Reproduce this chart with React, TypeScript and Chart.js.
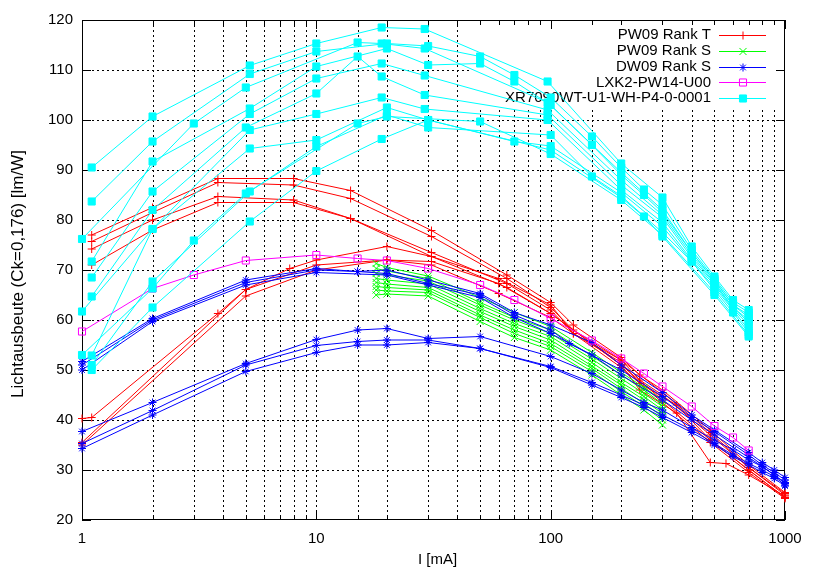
import React, { useEffect, useRef } from 'react';
import { Chart, registerables } from 'chart.js';

Chart.register(...registerables);

type P = [number, number];

// ---------- axes / text ----------
const xMajorLabels = [1, 10, 100, 1000];
const yMin = 20;
const yMax = 120;
const yStep = 10;
const xTitle = 'I [mA]';
const yTitle = 'Lichtausbeute (Ck=0,176) [lm/W]';
const legendLabels = ['PW09 Rank T', 'PW09 Rank S', 'DW09 Rank S', 'LXK2-PW14-U00', 'XR7090WT-U1-WH-P4-0-0001'];

// ---------- PW09 Rank T (red) ----------
const rankT1: P[] = [[1.1, 77], [2, 82.5], [3.8, 88.3], [8, 88.3], [14, 85.9], [31, 77.9], [65, 69], [100, 63.5], [125, 59], [200, 52.5], [240, 49], [300, 46], [480, 38], [700, 31], [1000, 25.5]];
const rankT2: P[] = [[1.1, 75.7], [2, 81.5], [3.8, 87.5], [8, 87], [14, 84.3], [31, 76.7], [65, 68.3], [100, 62.5], [125, 58], [200, 52], [240, 48], [300, 45], [480, 37], [700, 30.5], [1000, 25]];
const rankT3: P[] = [[1.1, 74.2], [2, 80], [3.8, 84.7], [8, 84], [14, 80.3], [31, 73.5], [65, 67.3], [100, 62], [125, 57.3], [200, 51.5], [240, 47.3], [345, 43], [480, 36], [700, 30], [1000, 24.5]];
const rankT4: P[] = [[1.1, 71], [2, 78], [3.8, 83.5], [8, 83.5], [14, 80.3], [31, 72.7], [65, 66.5], [100, 61.3], [200, 51], [240, 46], [345, 41.4], [480, 31.5], [560, 31.3], [700, 29], [1000, 24.8]];
const rankT5: P[] = [[1, 40.3], [1.1, 40.5], [3.8, 61.3], [5, 66.1], [7.7, 70.3], [10, 72], [20, 74.7], [31, 72.7], [60, 68.3], [100, 63], [125, 57.3], [200, 52], [300, 45.5], [480, 37.5], [700, 30.5], [1000, 25.3]];
const rankT6: P[] = [[1, 35.5], [5, 66.1], [10, 71], [20, 72], [31, 71.7], [60, 67.3], [100, 61.3], [200, 51], [300, 44], [480, 36], [700, 30], [1000, 24.5]];
const rankT7: P[] = [[1, 35], [5, 64.8], [10, 70], [20, 72], [31, 71], [60, 65.3], [100, 60.5], [200, 50.5], [300, 43.5], [480, 35.5], [700, 29.5], [1000, 24.3]];

// ---------- PW09 Rank S (green) ----------
const rankS1: P[] = [[18, 71.3], [20, 70.5], [30, 68.8], [50, 64.5], [70, 61.5], [100, 58.7], [150, 53.5], [200, 49.5], [250, 46.5], [300, 44]];
const rankS2: P[] = [[18, 70.3], [20, 69.8], [30, 68.3], [50, 63.5], [70, 60.5], [100, 58], [150, 52.8], [200, 49], [250, 46], [300, 43.2]];
const rankS3: P[] = [[18, 69.3], [20, 69], [30, 67.8], [50, 63], [70, 60], [100, 57.3], [150, 52.2], [200, 48.3], [250, 45.3], [300, 42.7]];
const rankS4: P[] = [[18, 68.3], [20, 68], [30, 67.2], [50, 62.3], [70, 59.3], [100, 56.7], [150, 51.5], [200, 47.5], [250, 44.7], [300, 42]];
const rankS5: P[] = [[18, 67.5], [20, 67.2], [30, 66.5], [50, 61.7], [70, 58.7], [100, 56], [150, 50.8], [200, 47], [250, 44], [300, 41.3]];
const rankS6: P[] = [[18, 66.7], [20, 66.5], [30, 66], [50, 61], [70, 58], [100, 55.3], [150, 50.3], [200, 46.3], [250, 43.3], [300, 40.7]];
const rankS7: P[] = [[18, 66], [20, 65.8], [30, 65.5], [50, 60.5], [70, 57.3], [100, 54.7], [150, 49.7], [200, 45.7], [250, 42.7], [300, 40]];
const rankS8: P[] = [[18, 65], [20, 65.2], [30, 64.8], [50, 59.7], [70, 56.5], [100, 54], [150, 49], [200, 45], [250, 42], [300, 39]];

// ---------- DW09 Rank S (blue) ----------
const dwS1: P[] = [[1, 51.7], [2, 60.3], [5, 68], [10, 70.3], [15, 69.7], [20, 70], [30, 68], [50, 65.3], [70, 61.5], [100, 59], [150, 55.5], [200, 51], [300, 45.5], [400, 41], [500, 38], [700, 33.5], [800, 31.5], [900, 30], [1000, 28.5]];
const dwS2: P[] = [[1, 51], [2, 60], [5, 67.5], [10, 70], [15, 69.7], [20, 69.3], [30, 67.3], [50, 65], [70, 61], [100, 58], [120, 55.3], [200, 50], [300, 44.7], [400, 40.5], [500, 37.7], [700, 33], [800, 31], [900, 29.5], [1000, 28]];
const dwS3: P[] = [[1, 50], [2, 59.7], [5, 67], [10, 69.5], [20, 69], [30, 67], [50, 64.5], [70, 60.5], [100, 57.3], [150, 53], [200, 49], [300, 44], [400, 40], [500, 37], [700, 32.5], [800, 30.7], [900, 29], [1000, 27.5]];
const dwS4: P[] = [[1, 37.7], [2, 43.5], [5, 51.3], [10, 56.1], [15, 58], [20, 58.3], [30, 56.3], [50, 56.7], [100, 52.7], [150, 49.3], [200, 46], [250, 43.5], [300, 42], [400, 38.5], [500, 36], [600, 34], [700, 32], [800, 30.7], [900, 29], [1000, 27.3]];
const dwS5: P[] = [[1, 35.3], [2, 41.9], [5, 51], [10, 54.9], [15, 55.7], [20, 56], [30, 56], [50, 54.3], [100, 50.7], [150, 47.5], [200, 45], [250, 43], [300, 41], [400, 38], [500, 35.3], [600, 33], [700, 31.3], [800, 30], [900, 28.7], [1000, 27]];
const dwS6: P[] = [[1, 34.3], [2, 41], [5, 49.7], [10, 53.5], [15, 55], [20, 55], [30, 55.5], [50, 54.3], [100, 50.5], [150, 47], [200, 44.5], [250, 42.5], [300, 40.5], [400, 37.5], [500, 35], [600, 32.7], [700, 31], [800, 29.5], [900, 28.3], [1000, 26.8]];

// ---------- LXK2-PW14-U00 (magenta) ----------
const lxk2: P[] = [[1, 57.7], [2, 66.3], [3, 69], [5, 71.9], [10, 73], [15, 72.3], [20, 71.9], [30, 70.3], [50, 67], [70, 64], [100, 60.3], [150, 55.9], [200, 52.3], [250, 49.3], [300, 46.7], [400, 42.7], [500, 38.8], [600, 36.5], [700, 33.9]];

// ---------- XR7090WT-U1-WH-P4-0-0001 (cyan) ----------
const xr1: P[] = [[1.1, 90.5], [2, 100.7], [5.2, 110.9], [10, 115.3], [19, 118.5], [29, 118.2], [97, 107.7], [200, 91.3], [300, 84.5], [400, 74.7], [500, 68.7], [600, 64], [700, 62]];
const xr2: P[] = [[1.1, 83.7], [2, 95.7], [5.2, 109.2], [10, 113.7], [20, 115.3], [30, 114.8], [50, 112.7], [70, 109], [100, 104.5], [150, 96.7], [200, 90.5], [250, 86.1], [300, 83], [400, 74], [500, 68.3], [600, 63.5], [700, 61.5]];
const xr3: P[] = [[1, 76.2], [3, 99.3], [5, 106.5], [15, 115.5], [19, 115.3], [29, 114.3], [97, 103.5], [200, 89.5], [300, 82], [400, 73.5], [500, 68], [600, 63], [700, 61]];
const xr4: P[] = [[1.1, 71.7], [2, 91.7], [5.2, 102.3], [10, 110.7], [20, 114.3], [30, 111], [50, 111.3], [70, 107.7], [100, 103], [150, 95], [200, 89], [250, 85], [300, 81.5], [400, 73.5], [500, 67.8], [600, 63], [700, 60.5]];
const xr5: P[] = [[1.1, 68.5], [2, 85.7], [5.2, 101.2], [10, 108.3], [19, 111.3], [29, 108.9], [97, 102], [200, 88], [300, 81], [400, 73], [500, 67.5], [600, 62.5], [700, 60]];
const xr6: P[] = [[1.1, 64.7], [2, 82], [5, 98.5], [10, 105.3], [15, 112.7], [19, 108.7], [29, 105], [97, 101], [200, 87], [300, 80.5], [400, 72.5], [500, 67.3], [600, 62.5], [700, 59.5]];
const xr7: P[] = [[1, 61.7], [2, 78.2], [5.2, 98], [10, 101.2], [19, 104.5], [29, 102.2], [97, 100], [200, 86], [300, 79.5], [400, 72], [500, 67], [600, 62.2], [700, 59]];
const xr8: P[] = [[1.1, 52.9], [2, 78.2], [5.2, 94.3], [10, 96], [20, 102.5], [30, 100], [70, 95.7], [100, 94.8], [200, 85.5], [300, 78.7], [400, 71.7], [500, 66.5], [600, 62], [700, 58]];
const xr9: P[] = [[1.1, 51], [2, 67.7], [5.2, 85.7], [10, 94.7], [20, 101], [30, 98.5], [100, 97], [150, 88.7], [200, 84.8], [300, 77.5], [400, 71.7], [500, 66], [600, 61.5], [700, 57.5]];
const xr10: P[] = [[1, 53], [2, 66.3], [3, 75.9], [5, 85.3], [15, 99.3], [20, 100.7], [50, 99.7], [100, 93.2], [200, 84], [300, 77], [500, 65.5], [700, 57]];
const xr11: P[] = [[1.1, 50], [2, 62.5], [5.2, 79.7], [10, 89.8], [19, 96.2], [30, 100], [100, 94], [200, 84.5], [250, 80.7], [300, 76.7], [500, 65], [700, 56.7]];

type Group = { label: string; color: string; style: string; radius: number; filled: boolean; order: number; series: P[][] };

const groups: Group[] = [
  { label: legendLabels[0], color: '#ff0000', style: 'cross', radius: 4, filled: false, order: 4, series: [rankT1, rankT2, rankT3, rankT4, rankT5, rankT6, rankT7] },
  { label: legendLabels[1], color: '#00ff00', style: 'crossRot', radius: 5, filled: false, order: 3, series: [rankS1, rankS2, rankS3, rankS4, rankS5, rankS6, rankS7, rankS8] },
  { label: legendLabels[2], color: '#0000ff', style: 'star', radius: 4, filled: false, order: 2, series: [dwS1, dwS2, dwS3, dwS4, dwS5, dwS6] },
  { label: legendLabels[3], color: '#ff00ff', style: 'rect', radius: 5, filled: false, order: 1, series: [lxk2] },
  { label: legendLabels[4], color: '#00ffff', style: 'rect', radius: 5, filled: true, order: 0, series: [xr1, xr2, xr3, xr4, xr5, xr6, xr7, xr8, xr9, xr10, xr11] },
];

const FONT = "'Liberation Sans', Arial, Helvetica, sans-serif";

function drawMarker(ctx: CanvasRenderingContext2D, style: string, x: number, y: number, r: number, color: string, filled: boolean) {
  ctx.save();
  ctx.setLineDash([]);
  ctx.strokeStyle = color;
  ctx.fillStyle = color;
  ctx.lineWidth = 1;
  const d = r * Math.SQRT1_2;
  ctx.beginPath();
  if (style === 'cross' || style === 'star') {
    ctx.moveTo(x, y - r); ctx.lineTo(x, y + r);
    ctx.moveTo(x - r, y); ctx.lineTo(x + r, y);
  }
  if (style === 'crossRot' || style === 'star') {
    ctx.moveTo(x - d, y - d); ctx.lineTo(x + d, y + d);
    ctx.moveTo(x - d, y + d); ctx.lineTo(x + d, y - d);
  }
  if (style === 'rect') {
    ctx.rect(x - d, y - d, 2 * d, 2 * d);
    if (filled) ctx.fill();
  }
  ctx.stroke();
  ctx.restore();
}

const framePlugin = {
  id: 'gnuplotFrame',
  beforeDatasetsDraw(chart: any) {
    const { ctx, chartArea: a, scales } = chart;
    const xs = scales.x;
    const ys = scales.y;
    ctx.save();
    ctx.strokeStyle = '#000';
    ctx.lineWidth = 1;
    // dashed grid
    ctx.setLineDash([2, 3]);
    ctx.beginPath();
    for (const t of xs.ticks) {
      const px = Math.round(xs.getPixelForValue(t.value)) + 0.5;
      if (px <= a.left + 1 || px >= a.right - 1) continue;
      ctx.moveTo(px, a.top); ctx.lineTo(px, a.bottom);
    }
    for (const t of ys.ticks) {
      const py = Math.round(ys.getPixelForValue(t.value)) + 0.5;
      if (py <= a.top + 1 || py >= a.bottom - 1) continue;
      ctx.moveTo(a.left, py); ctx.lineTo(a.right, py);
    }
    ctx.stroke();
    // opaque key background
    ctx.setLineDash([]);
    ctx.fillStyle = '#fff';
    ctx.fillRect(a.right - 315, a.top + 1, 306, 86);
    // border
    ctx.strokeRect(a.left + 0.5, a.top + 0.5, a.right - a.left - 1, a.bottom - a.top - 1);
    // inward ticks on all sides
    ctx.beginPath();
    for (const t of xs.ticks) {
      const px = Math.round(xs.getPixelForValue(t.value)) + 0.5;
      const len = xMajorLabels.includes(Number(t.value)) ? 9 : 5;
      ctx.moveTo(px, a.bottom); ctx.lineTo(px, a.bottom - len);
      ctx.moveTo(px, a.top); ctx.lineTo(px, a.top + len);
    }
    for (const t of ys.ticks) {
      const py = Math.round(ys.getPixelForValue(t.value)) + 0.5;
      ctx.moveTo(a.left, py); ctx.lineTo(a.left + 9, py);
      ctx.moveTo(a.right, py); ctx.lineTo(a.right - 9, py);
    }
    ctx.stroke();
    // key
    ctx.font = `15px ${FONT}`;
    ctx.textAlign = 'right';
    ctx.textBaseline = 'middle';
    groups.forEach((g, i) => {
      const y = a.top + 15 + i * 15.8;
      ctx.fillStyle = '#000';
      ctx.fillText(g.label, a.right - 74, y);
      ctx.strokeStyle = g.color;
      ctx.beginPath();
      ctx.moveTo(a.right - 66, Math.round(y) + 0.5);
      ctx.lineTo(a.right - 19, Math.round(y) + 0.5);
      ctx.stroke();
      drawMarker(ctx, g.style, a.right - 42, Math.round(y) + 0.5, g.radius, g.color, g.filled);
    });
    // axis titles
    ctx.fillStyle = '#000';
    ctx.textAlign = 'center';
    ctx.textBaseline = 'middle';
    ctx.fillText(xTitle, (a.left + a.right) / 2 + 4, a.bottom + 40);
    ctx.save();
    ctx.font = `17px ${FONT}`;
    ctx.translate(18, (a.top + a.bottom) / 2 + 4);
    ctx.rotate(-Math.PI / 2);
    ctx.fillText(yTitle, 0, 0);
    ctx.restore();
    ctx.restore();
  },
};

export default function App() {
  const ref = useRef<HTMLCanvasElement | null>(null);
  useEffect(() => {
    document.body.style.margin = '0';
    const canvas = ref.current;
    if (!canvas) return;
    Chart.defaults.font.family = FONT;
    Chart.defaults.font.size = 15;
    Chart.defaults.color = '#000';
    const datasets: any[] = [];
    groups.forEach((g) => {
      g.series.forEach((s) => {
        datasets.push({
          label: g.label,
          data: s.map(([x, y]) => ({ x, y })),
          borderColor: g.color,
          backgroundColor: g.color,
          borderWidth: 1,
          pointStyle: g.style,
          pointRadius: g.radius,
          pointBorderWidth: 1,
          pointBorderColor: g.color,
          pointBackgroundColor: g.filled ? g.color : 'rgba(0,0,0,0)',
          pointHoverRadius: g.radius,
          tension: 0,
          fill: false,
          clip: false,
          order: g.order,
        });
      });
    });
    const chart = new Chart(canvas, {
      type: 'line',
      data: { datasets },
      plugins: [framePlugin],
      options: {
        animation: false,
        responsive: false,
        devicePixelRatio: 1,
        events: [],
        layout: { padding: { left: 0, right: 28, top: 20, bottom: 0 } },
        plugins: { legend: { display: false }, tooltip: { enabled: false }, title: { display: false } },
        scales: {
          x: {
            type: 'logarithmic',
            min: 1,
            max: 1000,
            grid: { display: false, drawTicks: false },
            border: { display: false },
            ticks: {
              autoSkip: false,
              maxRotation: 0,
              padding: 10,
              font: { size: 15, family: FONT },
              color: '#000',
              callback: (v: any) => (xMajorLabels.includes(Number(v)) ? String(v) : ''),
            },
            afterFit: (s: any) => { s.height = 50; },
          },
          y: {
            type: 'linear',
            min: yMin,
            max: yMax,
            grid: { display: false, drawTicks: false },
            border: { display: false },
            ticks: { stepSize: yStep, padding: 9, font: { size: 15, family: FONT }, color: '#000' },
            afterFit: (s: any) => { s.width = 82; },
          },
        },
      },
    });
    return () => chart.destroy();
  }, []);
  return (
    <div style={{ position: 'absolute', left: 0, top: 0, width: 813, height: 570, background: '#fff' }}>
      <canvas ref={ref} width={813} height={570} style={{ width: 813, height: 570, display: 'block' }} />
    </div>
  );
}
